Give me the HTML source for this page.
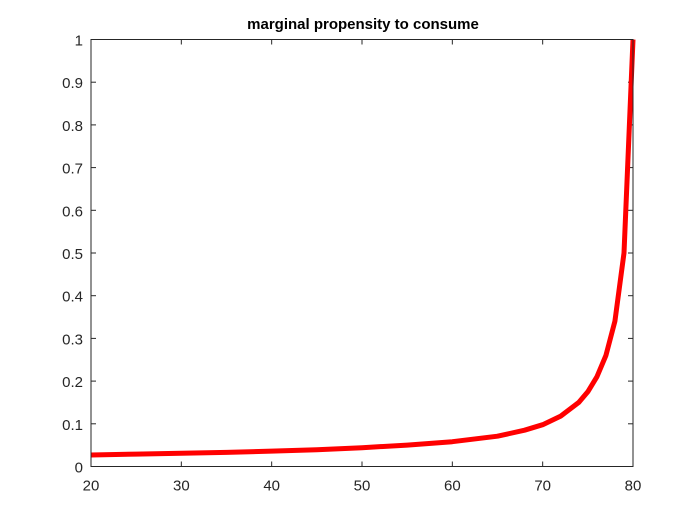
<!DOCTYPE html>
<html><head><meta charset="utf-8"><style>
html,body{margin:0;padding:0;background:#fff;}
svg{display:block;font-family:"Liberation Sans",Arial,sans-serif;}
</style></head><body>
<svg id="chart" width="700" height="525">
<rect x="0" y="0" width="700" height="525" fill="#fff"/>
<rect x="91" y="39.5" width="542" height="427" fill="#fff"/>
<g id="axes"></g>
<path id="line" fill="none" stroke="#ff0000" stroke-width="5" stroke-linejoin="round"/>
<rect x="91" y="39.5" width="542" height="427" fill="none" stroke="#262626" stroke-width="1"/>
<text x="363" y="29" text-anchor="middle" font-size="15" font-weight="bold" fill="#000">marginal propensity to consume</text>
</svg>
<script>
const ages = [20,25,30,35,40,45,50,55,60,65,68,70,72,74,75,76,77,78,79,80];
const mpc = [0.027,0.029,0.031,0.033,0.036,0.039,0.044,0.050,0.058,0.071,0.085,0.098,0.118,0.150,0.175,0.210,0.260,0.340,0.500,1.0];
const xTicks = [20,30,40,50,60,70,80];
const yTicks = [0,0.1,0.2,0.3,0.4,0.5,0.6,0.7,0.8,0.9,1];

const L=91,R=633,T=39.5,B=466.5;
const xs=v=>L+(v-20)/60*(R-L);
const ys=v=>B-v*(B-T);
const NS="http://www.w3.org/2000/svg";
const ax=document.getElementById('axes');
function mk(tag,attrs,txt){const e=document.createElementNS(NS,tag);for(const k in attrs)e.setAttribute(k,attrs[k]);if(txt!==undefined)e.textContent=txt;ax.appendChild(e);return e;}
xTicks.forEach(t=>{
  const x=xs(t);
  const a=mk('line',{x1:x,x2:x,y1:B,y2:B-5,stroke:'#262626'});
  
  
  const b=mk('line',{x1:x,x2:x,y1:T,y2:T+5,stroke:'#262626'});
  
  
  const l=mk('text',{x:x,y:B+24,'text-anchor':'middle','font-size':'15',fill:'#262626'},String(t));
  
  
});
yTicks.forEach(t=>{
  const y=ys(t);
  const a=mk('line',{x1:L,x2:L+5,y1:y,y2:y,stroke:'#262626'});
  
  
  const b=mk('line',{x1:R,x2:R-5,y1:y,y2:y,stroke:'#262626'});
  
  
  const l=mk('text',{x:L-8,y:y+6,'text-anchor':'end','font-size':'15',fill:'#262626'},String(t));
  
  
});
document.getElementById('line').setAttribute('d',ages.map((a,i)=>(i?'L':'M')+xs(a).toFixed(1)+','+ys(mpc[i]).toFixed(1)).join(' '));
</script>
</body></html>
